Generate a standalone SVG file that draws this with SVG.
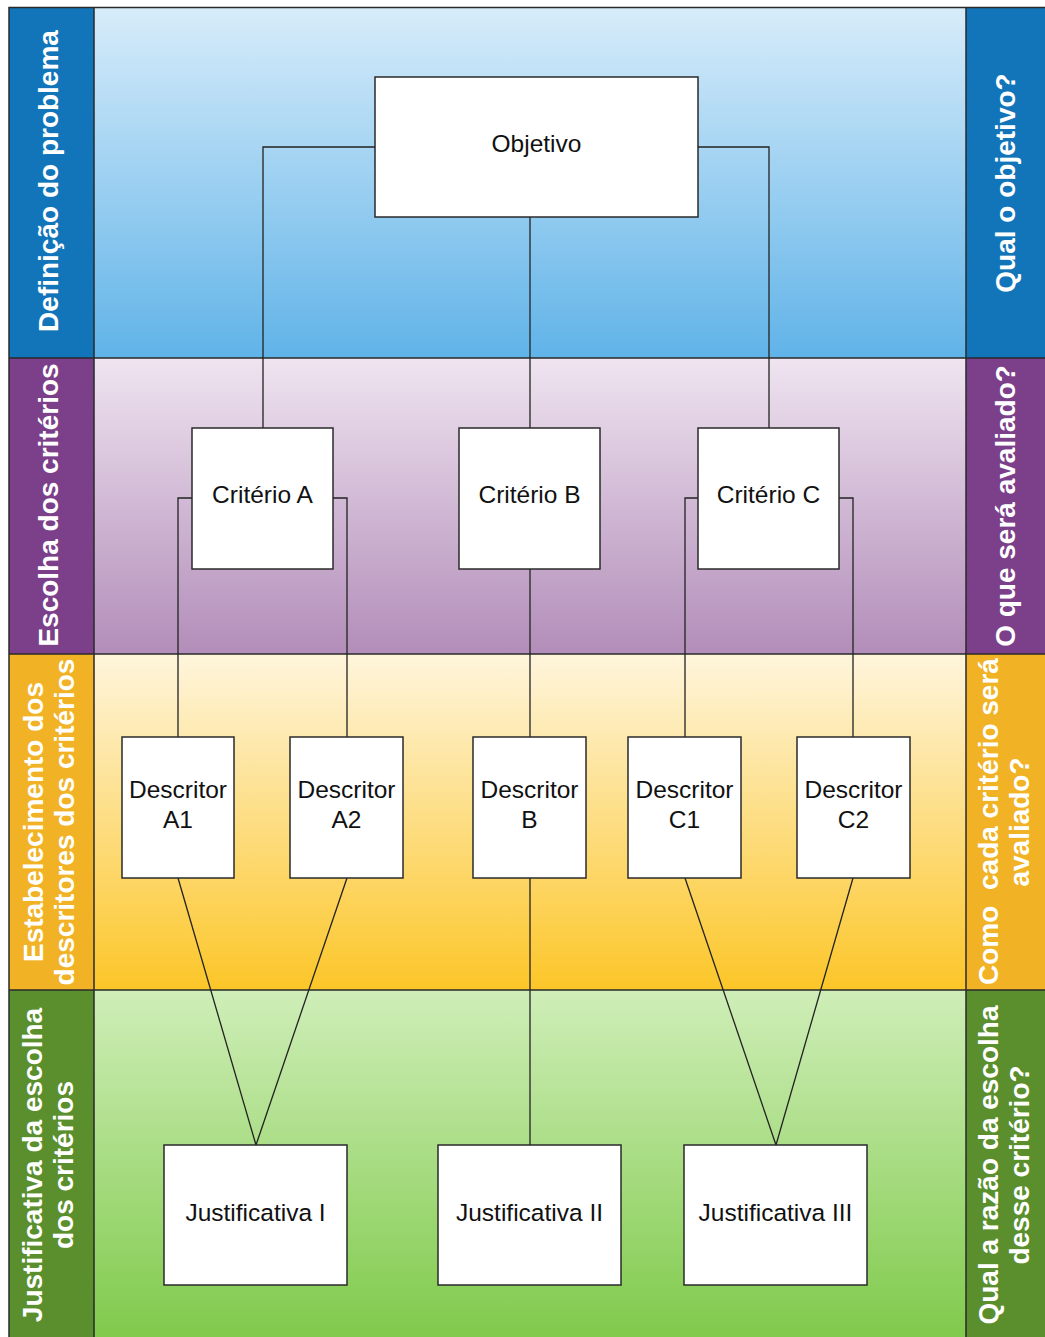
<svg xmlns="http://www.w3.org/2000/svg" width="1045" height="1337" viewBox="0 0 1045 1337">
  <defs>
    <linearGradient id="gBlue" x1="0" y1="0" x2="0" y2="1">
      <stop offset="0" stop-color="#d7ecfa"/>
      <stop offset="1" stop-color="#60b3e8"/>
    </linearGradient>
    <linearGradient id="gPurple" x1="0" y1="0" x2="0" y2="1">
      <stop offset="0" stop-color="#efe4f0"/>
      <stop offset="1" stop-color="#b28db9"/>
    </linearGradient>
    <linearGradient id="gYellow" x1="0" y1="0" x2="0" y2="1">
      <stop offset="0" stop-color="#fef5dc"/>
      <stop offset="1" stop-color="#fcc629"/>
    </linearGradient>
    <linearGradient id="gGreen" x1="0" y1="0" x2="0" y2="1">
      <stop offset="0" stop-color="#cfeeb8"/>
      <stop offset="1" stop-color="#80ca4c"/>
    </linearGradient>
    <style>
      .sep { stroke: #2a2a2a; stroke-width: 1.5; fill: none; }
      .box { fill: #ffffff; stroke: #2a2a2a; stroke-width: 1.5; }
      .lbl { font-family: "Liberation Sans", Arial, sans-serif; font-size: 24.5px; fill: #111111; text-anchor: middle; }
      .side { font-family: "Liberation Sans", Arial, sans-serif; font-weight: bold; font-size: 28px; fill: #ffffff; text-anchor: middle; }
      .conn { stroke: #222222; stroke-width: 1.3; fill: none; }
    </style>
  </defs>

  <rect x="0" y="0" width="1045" height="1337" fill="#ffffff"/>

  <!-- band backgrounds -->
  <g id="bands">
    <rect x="94" y="8" width="872" height="350" fill="url(#gBlue)"/>
    <rect x="94" y="358" width="872" height="296" fill="url(#gPurple)"/>
    <rect x="94" y="654" width="872" height="336" fill="url(#gYellow)"/>
    <rect x="94" y="990" width="872" height="347" fill="url(#gGreen)"/>

    <rect x="9" y="8" width="85" height="350" fill="#1375b9"/>
    <rect x="9" y="358" width="85" height="296" fill="#7c3f8a"/>
    <rect x="9" y="654" width="85" height="336" fill="#f1b325"/>
    <rect x="9" y="990" width="85" height="347" fill="#5b8f2e"/>

    <rect x="966" y="8" width="79" height="350" fill="#1375b9"/>
    <rect x="966" y="358" width="79" height="296" fill="#7c3f8a"/>
    <rect x="966" y="654" width="79" height="336" fill="#f1b325"/>
    <rect x="966" y="990" width="79" height="347" fill="#5b8f2e"/>

    <path class="sep" d="M9 1337 V7.5 H1045 M94 8 V1337 M966 8 V1337 M9 358 H1045 M9 654 H1045 M9 990 H1045"/>
  </g>

  <!-- row titles, left side -->
  <g id="left-titles">
    <text class="side" transform="translate(58,181) rotate(-90)">Definição do problema</text>
    <text class="side" transform="translate(58,505) rotate(-90)">Escolha dos critérios</text>
    <text class="side" transform="translate(43,822) rotate(-90)">Estabelecimento dos</text>
    <text class="side" transform="translate(74,822) rotate(-90)">descritores dos critérios</text>
    <text class="side" transform="translate(42,1165) rotate(-90)">Justificativa da escolha</text>
    <text class="side" transform="translate(73,1165) rotate(-90)">dos critérios</text>
  </g>

  <!-- row questions, right side -->
  <g id="right-titles">
    <text class="side" transform="translate(1015,183) rotate(-90)">Qual o objetivo?</text>
    <text class="side" transform="translate(1015,506) rotate(-90)">O que será avaliado?</text>
    <text class="side" style="text-anchor:start" transform="translate(998,822) rotate(-90)"><tspan x="-163">Como</tspan><tspan x="-68">cada critério será</tspan></text>
    <text class="side" transform="translate(1029,822) rotate(-90)">avaliado?</text>
    <text class="side" transform="translate(998,1165) rotate(-90)">Qual a razão da escolha</text>
    <text class="side" transform="translate(1029,1165) rotate(-90)">desse critério?</text>
  </g>

  <!-- connectors -->
  <g id="connectors">
    <path class="conn" d="M375 147 H263 V428"/>
    <path class="conn" d="M698 147 H769 V428"/>
    <path class="conn" d="M530 217 V428"/>
    <path class="conn" d="M192 498 H178 V737"/>
    <path class="conn" d="M333 498 H347 V737"/>
    <path class="conn" d="M530 569 V737"/>
    <path class="conn" d="M698 498 H685 V737"/>
    <path class="conn" d="M839 498 H853 V737"/>
    <path class="conn" d="M178 878 L256 1145"/>
    <path class="conn" d="M347 878 L256 1145"/>
    <path class="conn" d="M530 878 V1145"/>
    <path class="conn" d="M685 878 L776 1145"/>
    <path class="conn" d="M853 878 L776 1145"/>
  </g>

  <!-- nodes -->
  <g id="objetivo">
    <rect class="box" x="375" y="77" width="323" height="140"/>
    <text class="lbl" x="536.5" y="152">Objetivo</text>
  </g>
  <g id="criterio-a">
    <rect class="box" x="192" y="428" width="141" height="141"/>
    <text class="lbl" x="262.5" y="503">Critério A</text>
  </g>
  <g id="criterio-b">
    <rect class="box" x="459" y="428" width="141" height="141"/>
    <text class="lbl" x="529.5" y="503">Critério B</text>
  </g>
  <g id="criterio-c">
    <rect class="box" x="698" y="428" width="141" height="141"/>
    <text class="lbl" x="768.5" y="503">Critério C</text>
  </g>
  <g id="descritor-a1">
    <rect class="box" x="122" y="737" width="112" height="141"/>
    <text class="lbl" x="178" y="798">Descritor</text>
    <text class="lbl" x="178" y="828">A1</text>
  </g>
  <g id="descritor-a2">
    <rect class="box" x="290" y="737" width="113" height="141"/>
    <text class="lbl" x="346.5" y="798">Descritor</text>
    <text class="lbl" x="346.5" y="828">A2</text>
  </g>
  <g id="descritor-b">
    <rect class="box" x="473" y="737" width="113" height="141"/>
    <text class="lbl" x="529.5" y="798">Descritor</text>
    <text class="lbl" x="529.5" y="828">B</text>
  </g>
  <g id="descritor-c1">
    <rect class="box" x="628" y="737" width="113" height="141"/>
    <text class="lbl" x="684.5" y="798">Descritor</text>
    <text class="lbl" x="684.5" y="828">C1</text>
  </g>
  <g id="descritor-c2">
    <rect class="box" x="797" y="737" width="113" height="141"/>
    <text class="lbl" x="853.5" y="798">Descritor</text>
    <text class="lbl" x="853.5" y="828">C2</text>
  </g>
  <g id="justificativa-i">
    <rect class="box" x="164" y="1145" width="183" height="140"/>
    <text class="lbl" x="255.5" y="1221">Justificativa I</text>
  </g>
  <g id="justificativa-ii">
    <rect class="box" x="438" y="1145" width="183" height="140"/>
    <text class="lbl" x="529.5" y="1221">Justificativa II</text>
  </g>
  <g id="justificativa-iii">
    <rect class="box" x="684" y="1145" width="183" height="140"/>
    <text class="lbl" x="775.5" y="1221">Justificativa III</text>
  </g>
</svg>
